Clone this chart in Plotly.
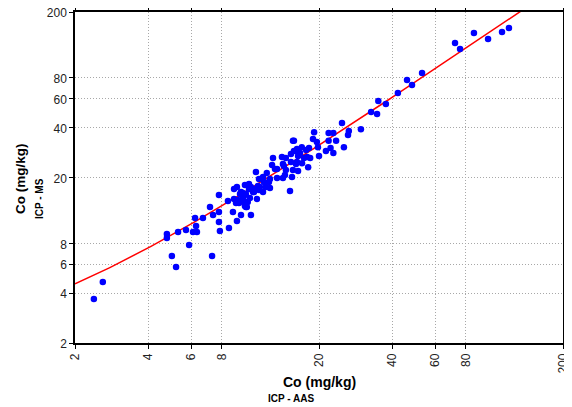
import numpy as np
import plotly.graph_objects as go

# ICP-AAS vs ICP-MS, Co in mg/kg
icp_aas = [
    2.39, 2.60, 4.76, 4.76, 4.99, 5.19, 5.29, 5.70, 5.87, 6.09,
    6.32, 6.21, 6.27, 6.69, 7.29, 7.15, 7.36, 7.78, 7.78, 7.78,
    7.85, 8.47, 8.55, 8.88, 8.97, 9.22, 9.14, 9.22, 9.40, 9.66,
    9.76, 9.58, 10.03, 10.12, 9.94, 10.33, 10.52, 11.13, 10.93, 11.24,
    35.0, 32.7, 34.6, 29.7, 26.5, 24.85, 26.3, 23.5, 22.9, 21.9,
    25.3, 22.9, 21.35, 20.0, 19.1, 18.9, 19.6, 18.2, 17.0, 16.25,
    15.64, 15.79, 16.41, 17.88, 18.4, 18.05, 17.04, 16.25, 15.64, 16.41,
    14.63, 14.23, 12.96, 12.84, 13.46, 14.63, 15.50, 15.21, 14.23, 13.46,
    12.59, 11.79, 11.03, 11.35, 11.90, 12.11, 10.52, 10.73, 11.35, 10.03,
    9.76, 9.58, 8.97, 9.31, 10.21, 9.94,
    16.72, 17.37, 17.71, 19.8, 22.3, 21.9,
    12.22, 14.50, 12.47, 12.59, 11.45, 10.33, 9.49, 10.83, 11.79, 10.42,
    9.94, 9.85, 10.03, 15.35, 16.10, 15.35, 14.10, 14.36, 13.20, 16.10,
    15.79,
    37.6, 42.1, 45.9, 48.1, 52.9, 72.2, 75.7, 86.3, 98.6, 112.5, 120.1,
]
icp_ms = [
    3.69, 4.67, 9.11, 8.62, 6.71, 5.76, 9.37, 9.63, 7.82, 9.37,
    9.37, 11.38, 10.18, 11.38, 6.71, 13.27, 11.87, 15.68, 12.37, 10.77,
    9.50, 14.42, 9.91, 12.37, 17.04, 17.52, 14.03, 10.92, 14.03, 14.42,
    16.12, 11.87, 13.84, 13.27, 18.01, 18.26, 11.87, 14.83, 17.04, 17.76,
    58.0, 49.8, 48.4, 39.2, 38.2, 42.7, 36.1, 33.3, 37.1, 37.1,
    30.5, 28.1, 28.9, 27.0, 37.6, 34.2, 32.8, 30.1, 30.5, 29.7,
    33.3, 28.9, 27.0, 26.6, 26.2, 23.1, 24.4, 24.8, 22.2, 21.9,
    26.2, 24.1, 26.2, 23.8, 22.5, 22.2, 20.14, 16.57, 19.86, 19.86,
    19.59, 20.14, 21.59, 19.59, 18.79, 17.52, 17.52, 16.34, 16.80, 15.90,
    15.04, 16.34, 14.83, 14.62, 14.22, 13.46,
    28.1, 26.2, 29.3, 30.5, 30.1, 33.3,
    21.29, 20.71, 18.79, 17.28, 17.52, 17.04, 15.90, 16.34, 16.34, 15.04,
    15.68, 14.42, 13.27, 27.7, 24.1, 24.8, 26.6, 23.5, 22.5, 28.9,
    33.3,
    55.6, 64.8, 77.6, 72.4, 85.6, 130.0, 119.5, 149.3, 137.5, 151.4, 160.0,
]

# linear fit y = a + b*x, drawn on log axes
fit_a = 1.57
fit_b = 1.49

tick_vals = [2, 4, 6, 8, 20, 40, 60, 80, 200]

x_fit = np.logspace(np.log10(2), np.log10(200), 200)
y_fit = fit_a + fit_b * x_fit

fig = go.Figure()
fig.add_trace(go.Scatter(
    x=x_fit, y=y_fit, mode="lines",
    line=dict(color="#ff0000", width=1.5),
    hoverinfo="skip",
))
fig.add_trace(go.Scatter(
    x=icp_aas, y=icp_ms, mode="markers",
    marker=dict(color="#0000ff", size=6.5, line=dict(width=0)),
))

axis_style = dict(
    type="log",
    range=[np.log10(2), np.log10(200)],
    tickvals=tick_vals,
    ticktext=[str(v) for v in tick_vals],
    showgrid=True,
    gridcolor="#a8a8a8",
    griddash="1px,2px",
    gridwidth=1,
    showline=True,
    linecolor="black",
    linewidth=1.5,
    mirror="ticks",
    ticks="outside",
    ticklen=4,
    tickcolor="black",
    zeroline=False,
    automargin=False,
    ticklabeloverflow="allow",
    tickfont=dict(family="Arial, Liberation Sans", size=12, color="#222"),
)

fig.update_xaxes(**axis_style, tickangle=-90)
fig.update_yaxes(**axis_style, ticklabelshift=1)

bold = dict(family="Arial, Liberation Sans", color="black")
titles = [
    ("<b>Co (mg/kg)</b>", 0.5, -0.118, 0, 14),
    ("<b>ICP - AAS</b>", 0.4426, -0.169, 0, 10),
    ("<b>Co (mg/kg)</b>", -0.1107, 0.4985, -90, 13.5),
    ("<b>ICP - MS</b>", -0.0738, 0.438, -90, 10),
]
for text, ax, ay, angle, size in titles:
    fig.add_annotation(text=text, xref="paper", yref="paper", x=ax, y=ay,
                       xanchor="center", yanchor="middle", textangle=angle,
                       showarrow=False, font=dict(size=size, **bold))

# page body adds an 8px offset, so the figure is sized to fit the window
fig.update_layout(
    width=564, height=399,
    margin=dict(l=67, r=9, t=4, b=64),
    plot_bgcolor="white",
    paper_bgcolor="white",
    showlegend=False,
)

fig.write_html("out.html")
